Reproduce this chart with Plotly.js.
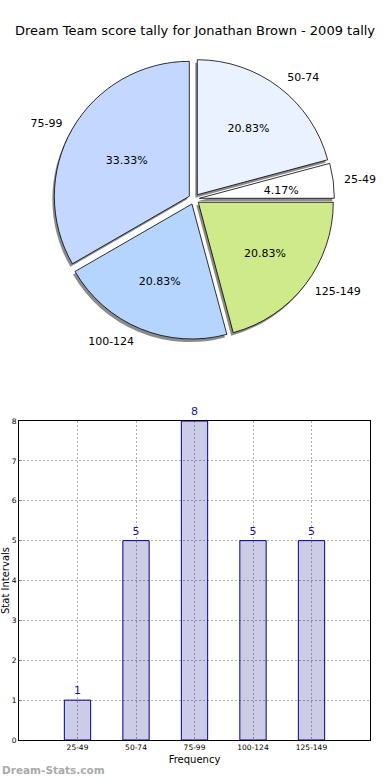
<!DOCTYPE html>
<html>
<head>
<meta charset="utf-8">
<script src="https://cdn.plot.ly/plotly-3.0.1.min.js"></script>
<style>
  html, body { margin: 0; padding: 0; background: #fff; }
  #chart { width: 390px; height: 780px; }
</style>
</head>
<body>
<div id="chart"></div>
<script>
// ---- data ----
const categories = ["25-49", "50-74", "75-99", "100-124", "125-149"];
const counts = [1, 5, 8, 5, 5];
const sliceColors = ["#FFFFFF", "#EAF1FF", "#C4D8FF", "#B5D5FF", "#CFEA8A"];
const titleText = "Dream Team score tally for Jonathan Brown - 2009 tally";
const xTitle = "Frequency";
const yTitle = "Stat Intervals";
const yTicks = [0, 1, 2, 3, 4, 5, 6, 7, 8];
const watermark = "Dream-Stats.com";

// ---- layout helpers (paper fractions) ----
const W = 390, H = 780;
const font = "DejaVu Sans, Verdana, sans-serif";
const pieCx = 194, pieCy = 199, pieR = 135, pullFrac = 0.04;
function dom(cx, cy, half) {
  return { x: [(cx - half) / W, (cx + half) / W], y: [1 - (cy + half) / H, 1 - (cy - half) / H] };
}
const mainHalf = pieR * (1 + pullFrac);
const pieDomain = dom(pieCx, pieCy, mainHalf);
const shadowDomain = dom(pieCx - 2, pieCy + 3, mainHalf);
const labelDomain = dom(pieCx, pieCy, 148);
const smallPctDomain = dom(pieCx, pieCy, 67);
const pullVal = categories.map(() => pullFrac);
// small slices whose percentage does not fit inside get an outside-placed label on an inner ring
const smallSlice = counts.map(v => v / counts.reduce((a, b) => a + b, 0) < 0.1);

const common = { type: "pie", values: counts, labels: categories, sort: false,
  direction: "counterclockwise", rotation: 75, showlegend: false };

const shadow = Object.assign({}, common, {
  pull: pullVal, domain: shadowDomain,
  marker: { colors: categories.map(() => "rgba(110,110,110,0.8)"), line: { width: 0 } },
  textinfo: "none", hoverinfo: "skip"
});
const main = Object.assign({}, common, {
  pull: pullVal, domain: pieDomain,
  marker: { colors: sliceColors, line: { color: "#000", width: 0.8 } },
  texttemplate: "%{percent:.2%}",
  textposition: smallSlice.map(s => s ? "none" : "inside"),
  insidetextorientation: "horizontal",
  textfont: { family: font, size: 11, color: "#000" },
  hoverinfo: "label+percent"
});
const smallPct = Object.assign({}, common, {
  domain: smallPctDomain,
  marker: { colors: categories.map(() => "rgba(0,0,0,0)"), line: { width: 0 } },
  texttemplate: "%{percent:.2%}",
  textposition: smallSlice.map(s => s ? "outside" : "none"),
  outsidetextfont: { family: font, size: 11, color: "#000" },
  automargin: false, hoverinfo: "skip"
});
const labelsTrace = Object.assign({}, common, {
  domain: labelDomain,
  marker: { colors: categories.map(() => "rgba(0,0,0,0)"), line: { width: 0 } },
  textinfo: "label", textposition: "outside",
  outsidetextfont: { family: font, size: 11, color: "#000" },
  automargin: false, hoverinfo: "skip"
});
const bars = {
  type: "bar", x: categories, y: counts, xaxis: "x", yaxis: "y",
  width: 0.45,
  marker: { color: "rgba(0,0,128,0.2)", line: { color: "#00008B", width: 1 } },
  text: counts.map(String), textposition: "outside", cliponaxis: false,
  textfont: { family: font, size: 11, color: "#1a1a99" },
  hoverinfo: "x+y", showlegend: false
};

const layout = {
  width: W, height: H,
  margin: { l: 0, r: 0, t: 0, b: 0 },
  paper_bgcolor: "#fff", plot_bgcolor: "rgba(0,0,0,0)",
  font: { family: font, color: "#000" },
  title: { text: titleText, font: { family: font, size: 13, color: "#000" },
           x: 0.5, xanchor: "center", y: 1 - 30 / H, yanchor: "middle" },
  xaxis: {
    domain: [19 / W, 370 / W], type: "category", range: [-1, 5],
    showline: true, mirror: true, linecolor: "#000", linewidth: 1,
    showgrid: true, gridcolor: "#b0b0b0", griddash: "2px,2px", gridwidth: 1,
    ticks: "inside", ticklen: 3, tickcolor: "#888",
    tickfont: { family: font, size: 7.5, color: "#000" },
    title: { text: xTitle, font: { family: font, size: 10, color: "#000" }, standoff: 4 },
    automargin: false, fixedrange: true, layer: "above traces"
  },
  yaxis: {
    domain: [1 - 740 / H, 1 - 421 / H], range: [0, 8], tickvals: yTicks,
    showline: true, mirror: true, linecolor: "#000", linewidth: 1,
    showgrid: true, gridcolor: "#b0b0b0", griddash: "2px,2px", gridwidth: 1,
    zeroline: false,
    ticks: "inside", ticklen: 3, tickcolor: "#888",
    tickfont: { family: font, size: 7.5, color: "#000" },
    title: { text: yTitle, font: { family: font, size: 10, color: "#000" }, standoff: 2 },
    automargin: false, fixedrange: true, layer: "above traces"
  },
  annotations: [{
    text: "<b>" + watermark + "</b>", xref: "paper", yref: "paper",
    x: 0, y: 1 - 770 / H, xanchor: "left", yanchor: "middle", showarrow: false,
    font: { family: font, size: 10.5, color: "#aaa" }
  }]
};

Plotly.newPlot("chart", [shadow, main, smallPct, labelsTrace, bars], layout,
  { displayModeBar: false, staticPlot: true });
</script>
</body>
</html>
